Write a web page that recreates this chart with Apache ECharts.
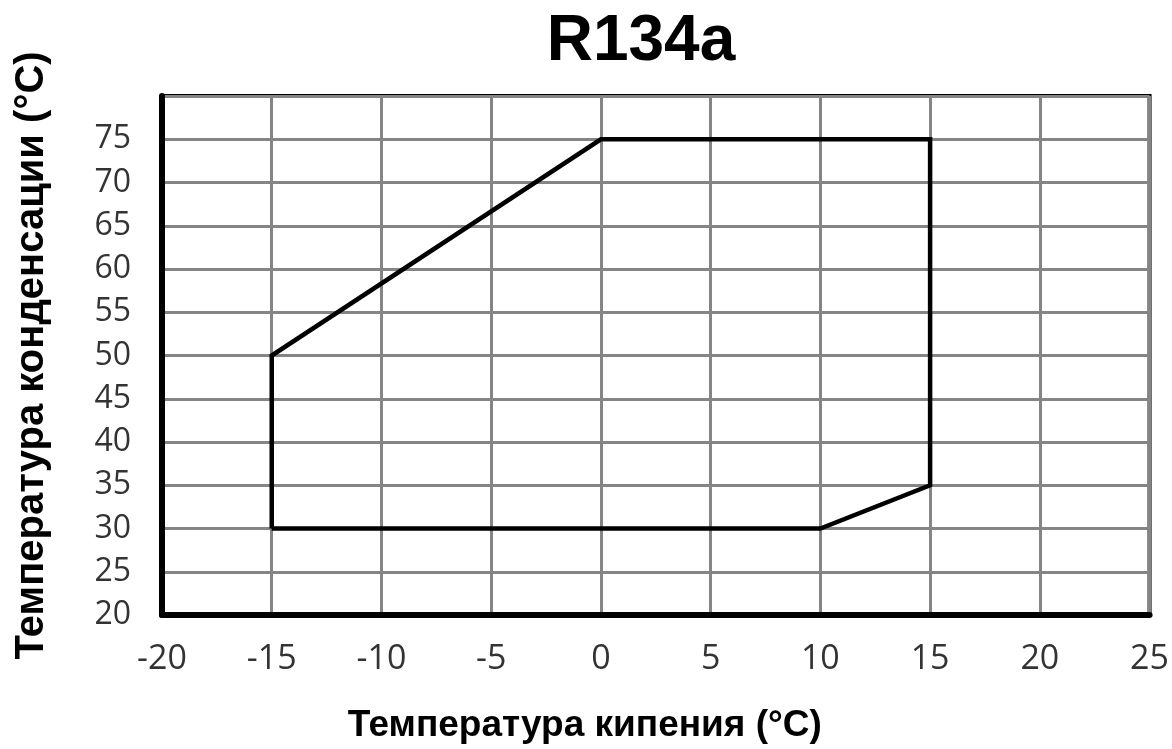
<!DOCTYPE html>
<html>
<head>
<meta charset="utf-8">
<script src="https://cdn.jsdelivr.net/npm/echarts@6/dist/echarts.min.js"></script>
<style>
  html, body { margin: 0; padding: 0; background: #fff; }
  #chart { width: 1172px; height: 749px; }
</style>
</head>
<body>
<div id="chart"></div>
<script>
// рабочая область R134a: температура кипения / конденсации
const boilTemp = [-15, -15, 0, 15, 15, 10, -15]
const condTemp = [30, 50, 75, 75, 35, 30, 30]

const xTicks = { min: -20, max: 25, step: 5 }
const yTicks = { min: 20, max: 80, step: 5 }

const chart = echarts.init(document.getElementById('chart'))

const option = {
  backgroundColor: '#fff',
  animation: false,
  title: {
    text: 'R134a',
    left: 636,
    top: 5,
    textAlign: 'center',
    textStyle: { fontFamily: 'Liberation Sans', fontWeight: 'bold', fontSize: 64, color: '#000' }
  },
  grid: {
    left: 162, right: 22, top: 96, bottom: 134,
    show: true,
    borderColor: '#000',
    borderWidth: 4
  },
  xAxis: {
    type: 'value',
    min: xTicks.min, max: xTicks.max, interval: xTicks.step,
    name: 'Температура кипения (°C)',
    nameLocation: 'middle',
    nameGap: 92,
    nameTextStyle: {
      fontFamily: 'Liberation Sans', fontWeight: 'bold', fontSize: 37, color: '#000',
      padding: [0, 142, 0, 0]
    },
    axisLine: { show: true, onZero: false, lineStyle: { color: '#000', width: 6 } },
    axisTick: { show: false },
    axisLabel: { fontFamily: 'Open Sans', fontSize: 34, color: '#333', margin: 27 },
    splitLine: { show: true, lineStyle: { color: '#858585', width: 3 } }
  },
  yAxis: {
    type: 'value',
    min: yTicks.min, max: yTicks.max, interval: yTicks.step,
    name: 'Температура конденсации (°C)',
    nameLocation: 'middle',
    nameGap: 110,
    nameTextStyle: { fontFamily: 'Liberation Sans', fontWeight: 'bold', fontSize: 40, color: '#000' },
    axisLine: { show: true, onZero: false, lineStyle: { color: '#000', width: 6 } },
    axisTick: { show: false },
    axisLabel: {
      fontFamily: 'Open Sans', fontSize: 32, color: '#333', margin: 31,
      formatter: v => (v === yTicks.max ? '' : v)
    },
    splitLine: { show: true, lineStyle: { color: '#858585', width: 3 } }
  },
  series: [{
    type: 'line',
    data: boilTemp.map((x, i) => [x, condTemp[i]]),
    symbol: 'none',
    lineStyle: { color: '#000', width: 4.5, join: 'miter' },
    z: 5
  }]
}

chart.setOption(option)
</script>
</body>
</html>
